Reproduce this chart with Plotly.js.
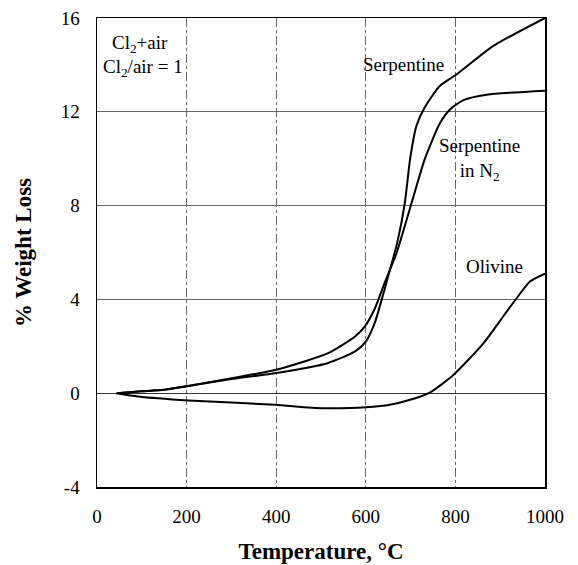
<!DOCTYPE html>
<html>
<head>
<meta charset="utf-8">
<script src="https://cdn.plot.ly/plotly-3.0.1.min.js"></script>
<style>html,body{margin:0;padding:0;background:#fff;}#chart{width:578px;height:565px;}</style>
</head>
<body>
<div id="chart"></div>
<script>
// Serpentine in Cl2+air
const serpT = [44, 100, 150, 200, 300, 400, 516, 576, 600, 620, 640, 650, 670, 687, 699, 713, 732, 765, 803, 884, 1000];
const serpW = [0.0, 0.08, 0.15, 0.3, 0.6, 0.86, 1.29, 1.78, 2.2, 3.0, 4.3, 5.0, 6.4, 8.1, 10.0, 11.4, 12.2, 13.1, 13.6, 14.8, 16.0];
// Serpentine in N2
const serpN2T = [44, 100, 150, 200, 300, 400, 516, 576, 598, 620, 640, 669, 702, 732, 765, 788, 818, 870, 1000];
const serpN2W = [0.0, 0.08, 0.15, 0.3, 0.64, 1.0, 1.71, 2.42, 2.85, 3.6, 4.6, 6.0, 8.1, 10.0, 11.5, 12.1, 12.5, 12.73, 12.9];
// Olivine
const olivT = [44, 92, 204, 397, 487, 565, 600, 654, 699, 744, 796, 863, 907, 937, 967, 1000];
const olivW = [0.0, -0.14, -0.31, -0.49, -0.63, -0.63, -0.6, -0.49, -0.28, 0.04, 0.79, 2.14, 3.28, 4.06, 4.77, 5.1];

const xTicks = [0, 200, 400, 600, 800, 1000];
const yTicks = [-4, 0, 4, 8, 12, 16];

const line = {color: '#000', width: 2, shape: 'spline', smoothing: 0.6};
const traces = [
  {x: serpT, y: serpW, mode: 'lines', line: line, name: 'Serpentine'},
  {x: serpN2T, y: serpN2W, mode: 'lines', line: line, name: 'Serpentine in N2'},
  {x: olivT, y: olivW, mode: 'lines', line: line, name: 'Olivine'}
];

const serif = 'Liberation Serif, Times New Roman, serif';
const annFont = {family: serif, size: 19, color: '#000'};

const layout = {
  width: 578, height: 565,
  margin: {l: 97, r: 33, t: 18, b: 78},
  paper_bgcolor: '#fff', plot_bgcolor: '#fff',
  showlegend: false,
  font: {family: serif, size: 19, color: '#000'},
  xaxis: {
    range: [0, 1000], tickvals: xTicks, ticktext: xTicks.map(String),
    showline: true, mirror: true, linecolor: '#000', linewidth: 1.5,
    showgrid: true, gridcolor: '#666', gridwidth: 1, griddash: 'dashdot',
    zeroline: false, ticks: '', ticklabelstandoff: 12,
    tickfont: {family: serif, size: 19, color: '#000'},
    title: {text: '<b>Temperature, °C</b>', font: {family: serif, size: 23, color: '#000'}, standoff: 16}
  },
  yaxis: {
    range: [-4, 16], tickvals: yTicks, ticktext: yTicks.map(String),
    showline: true, mirror: true, linecolor: '#000', linewidth: 1.5,
    showgrid: true, gridcolor: '#666', gridwidth: 1,
    zeroline: true, zerolinecolor: '#333', zerolinewidth: 1,
    ticks: '', ticklabelstandoff: 12,
    tickfont: {family: serif, size: 19, color: '#000'},
    title: {text: '<b>% Weight Loss</b>', font: {family: serif, size: 23, color: '#000'}, standoff: 22}
  },
  annotations: [
    {x: 96, y: 14.9, xref: 'x', yref: 'y', text: 'Cl<sub>2</sub>+air', showarrow: false, font: annFont},
    {x: 102, y: 13.85, xref: 'x', yref: 'y', text: 'Cl<sub>2</sub>/air = 1', showarrow: false, font: annFont},
    {x: 685, y: 14.0, xref: 'x', yref: 'y', text: 'Serpentine', showarrow: false, font: annFont},
    {x: 853, y: 9.95, xref: 'x', yref: 'y', text: 'Serpentine<br>in N<sub>2</sub>', showarrow: false, font: annFont},
    {x: 888, y: 5.4, xref: 'x', yref: 'y', text: 'Olivine', showarrow: false, font: annFont}
  ]
};

Plotly.newPlot('chart', traces, layout, {staticPlot: true, displayModeBar: false});
</script>
</body>
</html>
